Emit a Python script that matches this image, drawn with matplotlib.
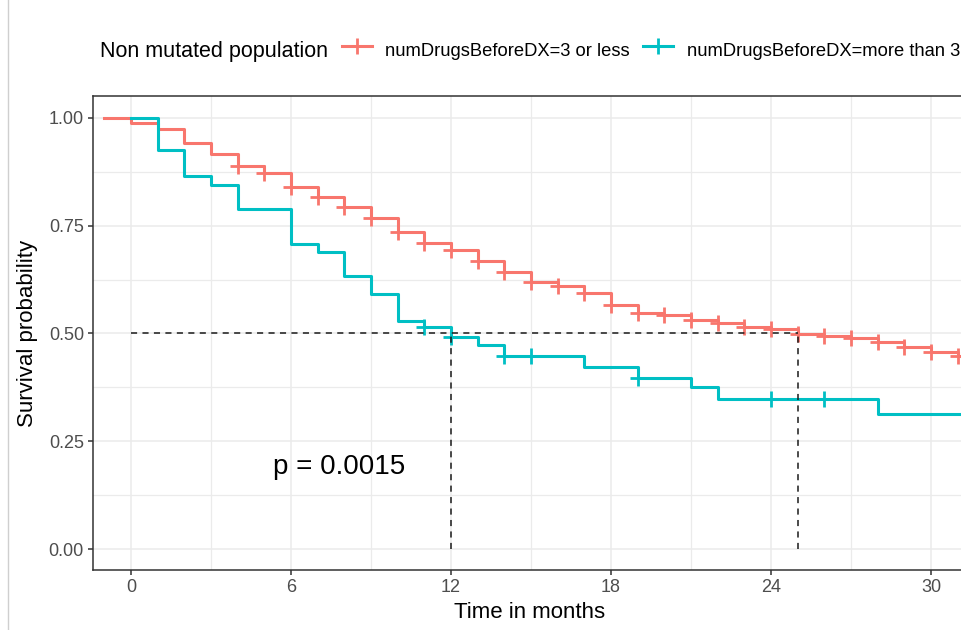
import numpy as np
import matplotlib
matplotlib.use("Agg")
import matplotlib.pyplot as plt
from matplotlib.lines import Line2D
from matplotlib.ticker import MultipleLocator, FixedLocator

plt.rcParams['font.family'] = ['Liberation Sans', 'DejaVu Sans']

# ---------------- data ----------------
legend_title = "Non mutated population"
group_labels = ["numDrugsBeforeDX=3 or less", "numDrugsBeforeDX=more than 3"]
group_colors = ["#F8766D", "#00BFC4"]

# group 1: 3 or less (step times and survival after each step)
red_times = [-1, 0, 1, 2, 3, 4, 5, 6, 7, 8, 9, 10, 11, 12, 13, 14, 15, 16, 17,
             18, 19, 20, 21, 22, 23, 24, 25, 26, 27, 28, 29, 30, 31, 33]
red_surv = [1.0, 0.988, 0.974, 0.943, 0.916, 0.889, 0.872, 0.841, 0.816, 0.794,
            0.769, 0.736, 0.709, 0.694, 0.669, 0.643, 0.619, 0.611, 0.593, 0.566,
            0.547, 0.544, 0.531, 0.5235, 0.516, 0.510, 0.499, 0.494, 0.489, 0.481,
            0.4695, 0.458, 0.447, 0.447]
red_censor = [4, 5, 6, 7, 8, 9, 10, 11, 12, 13, 14, 15, 16, 17, 18, 19, 20, 21,
              22, 23, 24, 25, 26, 27, 28, 29, 30, 31]

# group 2: more than 3
teal_times = [0, 1, 2, 3, 4, 6, 7, 8, 9, 10, 11, 12, 13, 14, 17, 19, 21, 22, 28, 33]
teal_surv = [1.0, 0.926, 0.865, 0.8445, 0.788, 0.708, 0.690, 0.633, 0.5916, 0.530,
             0.514, 0.491, 0.473, 0.448, 0.423, 0.396, 0.375, 0.348, 0.313, 0.313]
teal_censor = [11, 12, 14, 15, 19, 24, 26]

p_text = "p = 0.0015"
x_ticks = [0, 6, 12, 18, 24, 30]
y_ticks = [0.00, 0.25, 0.50, 0.75, 1.00]
y_tick_labels = ["0.00", "0.25", "0.50", "0.75", "1.00"]
x_label = "Time in months"
y_label = "Survival probability"

# ---------------- figure ----------------
W, H = 961, 630
fig = plt.figure(figsize=(W / 100, H / 100), dpi=100)
ax = fig.add_axes([93 / W, 60 / H, 874 / W, 474 / H])
ax.set_xlim(-1.425, 31.35)
ax.set_ylim(-0.0487, 1.051)

ax.set_facecolor("white")
for sp in ax.spines.values():
    sp.set_color("#333333")
    sp.set_linewidth(1.1)

ax.xaxis.set_major_locator(FixedLocator(x_ticks))
ax.yaxis.set_major_locator(FixedLocator(y_ticks))
ax.set_yticklabels(y_tick_labels)
ax.xaxis.set_minor_locator(MultipleLocator(3))
ax.yaxis.set_minor_locator(MultipleLocator(0.125))
ax.grid(which="major", color="#EBEBEB", linewidth=1.1, zorder=0)
ax.grid(which="minor", color="#EBEBEB", linewidth=0.9, zorder=0)
ax.set_axisbelow(True)
ax.tick_params(which="major", length=3.5, width=1.1, color="#333333",
               labelcolor="#4D4D4D", labelsize=13, pad=3)
ax.tick_params(which="minor", length=0)


def surv_at(times, surv, t):
    i = np.searchsorted(times, t, side="right") - 1
    return surv[i]


for times, surv, cens, col in [(red_times, red_surv, red_censor, group_colors[0]),
                               (teal_times, teal_surv, teal_censor, group_colors[1])]:
    ax.step(times, surv, where="post", color=col, linewidth=2.2, zorder=3)
    cy = [surv_at(times, surv, c) for c in cens]
    ax.plot(cens, cy, linestyle="none", marker="+", markersize=11,
            markeredgewidth=2.0, color=col, zorder=4)

# median lines
medians = []
for times, surv in [(red_times, red_surv), (teal_times, teal_surv)]:
    idx = next(i for i, s in enumerate(surv) if s <= 0.5)
    medians.append(times[idx])
dash = dict(color="#1A1A1A", linewidth=1.1, linestyle=(0, (4, 3.5)), zorder=5)
ax.plot([0, max(medians)], [0.5, 0.5], **dash)
for m in medians:
    ax.plot([m, m], [0, 0.5], **dash)

ax.text(5.32, 0.19, p_text, fontsize=20, ha="left", va="center", color="black")

ax.set_xlabel(x_label, fontsize=16, color="black")
ax.set_ylabel(y_label, fontsize=16, color="black")
ax.xaxis.set_label_coords(0.5, (570 - 613) / 474)
ax.xaxis.label.set_va("center")
ax.yaxis.set_label_coords((28 - 93) / 874, 0.5)
ax.yaxis.label.set_va("center")

# legend (horizontal, title at left)
base_y = 1 - 56.5 / H
fig.text(100 / W, base_y, legend_title, fontsize=15.5, ha="left", va="baseline")
key_cx = [357, 658]
text_x = [385, 687]
key_y = 1 - 45.5 / H
for cx, tx, col, lab in zip(key_cx, text_x, group_colors, group_labels):
    fig.add_artist(Line2D([(cx - 15) / W, (cx + 15) / W], [key_y, key_y],
                          transform=fig.transFigure, color=col, linewidth=2.2))
    fig.add_artist(Line2D([cx / W], [key_y], transform=fig.transFigure,
                          color=col, marker="+", markersize=11,
                          markeredgewidth=2.0, linestyle="none"))
    fig.text(tx / W, base_y, lab, fontsize=13.2, ha="left", va="baseline")

# screenshot edge line
fig.add_artist(Line2D([7.5 / W, 7.5 / W], [0, 1], transform=fig.transFigure,
                      color="#CFCFCF", linewidth=1.0))

fig.savefig("out.png", dpi=100)
